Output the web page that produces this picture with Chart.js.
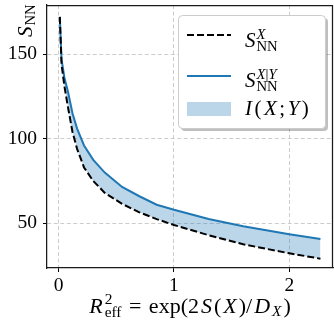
<!DOCTYPE html>
<html>
<head>
<meta charset="utf-8">
<script src="https://cdn.jsdelivr.net/npm/chart.js@4.4.1/dist/chart.umd.min.js"></script>
<style>
  html, body { margin: 0; padding: 0; background: #fff; }
  #wrap { width: 334px; height: 329px; }
</style>
</head>
<body>
<div id="wrap"><canvas id="c" width="334" height="329"></canvas></div>
<script>
// valeurs
const rEff = [0.01, 0.025, 0.05, 0.08, 0.12, 0.16, 0.22, 0.3, 0.4, 0.55, 0.7, 0.85, 1.0, 1.3, 1.6, 2.0, 2.27];
const sNNX = [172, 144, 131, 119, 104, 94, 83, 75, 68, 61.5, 56.5, 52.5, 49, 43, 37.6, 32.3, 29.1];
const sNNXY = [172, 147, 136, 128, 115, 106, 96, 87.5, 80, 71.5, 66, 61, 58, 52.5, 48.3, 43.6, 40.7];
const xTicks = [0, 1, 2];
const yTicks = [50, 100, 150];

const SERIF = '"Liberation Serif", "Times New Roman", serif';
const BLUE = '#1f77b4';
const FILL = 'rgba(31,119,180,0.3)';

const pts = (ys) => rEff.map((x, i) => ({ x: x, y: ys[i] }));

// petit moteur de texte "math" : runs normaux, indices et exposants
const fontOf = (r, size) => (r.it ? 'italic ' : '') + size.toFixed(1) + 'px ' + SERIF;

const runsWidth = (ctx, runs, size) => {
    let w = 0;
    runs.forEach(r => { ctx.font = fontOf(r, size); w += ctx.measureText(r.t).width; });
    return w;
};

const itemWidth = (ctx, it, size) => {
    if (it.sup || it.sub) {
        const s = size * 0.7;
        return Math.max(it.sup ? runsWidth(ctx, it.sup, s) : 0, it.sub ? runsWidth(ctx, it.sub, s) : 0);
    }
    ctx.font = fontOf(it, size);
    return ctx.measureText(it.t).width;
};

const drawRuns = (ctx, runs, x, y, size) => {
    runs.forEach(r => {
        ctx.font = fontOf(r, size);
        ctx.fillText(r.t, x, y);
        x += ctx.measureText(r.t).width;
    });
};

const drawMath = (ctx, items, x, y, size, gap, align) => {
    let total = 0;
    items.forEach((it, i) => { total += itemWidth(ctx, it, size) + (i ? gap : 0); });
    if (align === 'center') x -= total / 2;
    ctx.textBaseline = 'alphabetic';
    ctx.textAlign = 'left';
    items.forEach(it => {
        if (it.sup || it.sub) {
            const s = size * 0.7;
            if (it.sup) drawRuns(ctx, it.sup, x, y - size * 0.4, s);
            if (it.sub) drawRuns(ctx, it.sub, x, y + size * (it.sup ? 0.2 : 0.15), s);
        } else {
            ctx.font = fontOf(it, size);
            ctx.fillText(it.t, x, y);
        }
        x += itemWidth(ctx, it, size) + gap;
    });
};

const xTitle = [
    { t: 'R', it: true }, { sup: [{ t: '2' }], sub: [{ t: 'eff' }] },
    { t: ' = ' }, { t: 'exp(2' }, { t: 'S', it: true }, { t: '(' }, { t: 'X', it: true },
    { t: ')/' }, { t: 'D', it: true }, { sub: [{ t: 'X', it: true }] }, { t: ')' }
];
const yTitle = [{ t: 'S', it: true }, { sub: [{ t: 'NN' }] }];
const lab1 = [{ t: 'S', it: true }, { sup: [{ t: 'X', it: true }], sub: [{ t: 'NN' }] }];
const lab2 = [{ t: 'S', it: true }, { sup: [{ t: 'X', it: true }, { t: '|' }, { t: 'Y', it: true }], sub: [{ t: 'NN' }] }];
const lab3 = [{ t: 'I', it: true }, { t: '(' }, { t: 'X', it: true }, { t: ';' }, { t: 'Y', it: true }, { t: ')' }];

const decor = {
    id: 'decor',
    afterDraw(chart) {
        const { ctx, chartArea: a } = chart;
        ctx.save();
        // cadre haut / droite
        ctx.strokeStyle = '#1a1a1a';
        ctx.lineWidth = 1.25;
        ctx.beginPath();
        ctx.moveTo(a.left, a.top + 0.5);
        ctx.lineTo(a.right - 0.5, a.top + 0.5);
        ctx.lineTo(a.right - 0.5, a.bottom);
        ctx.stroke();

        ctx.fillStyle = '#000';
        // titre axe x
        drawMath(ctx, xTitle, (a.left + a.right) / 2, 313, 22, 2, 'center');
        // titre axe y (tourné)
        ctx.save();
        ctx.translate(32, 37);
        ctx.rotate(-Math.PI / 2);
        drawMath(ctx, yTitle, 0, 0, 21, 1, 'left');
        ctx.restore();

        // légende
        const bx = 178, by = 15, bw = 147, bh = 113;
        ctx.fillStyle = 'rgba(0,0,0,0.25)';
        ctx.beginPath();
        ctx.roundRect(bx + 3, by + 3, bw, bh, 4);
        ctx.fill();
        ctx.fillStyle = '#fff';
        ctx.strokeStyle = '#cccccc';
        ctx.lineWidth = 1;
        ctx.beginPath();
        ctx.roundRect(bx + 0.5, by + 0.5, bw, bh, 4);
        ctx.fill();
        ctx.stroke();

        ctx.lineWidth = 2;
        ctx.strokeStyle = '#000';
        ctx.setLineDash([7, 3]);
        ctx.beginPath(); ctx.moveTo(187, 35); ctx.lineTo(231, 35); ctx.stroke();
        ctx.setLineDash([]);
        ctx.strokeStyle = BLUE;
        ctx.beginPath(); ctx.moveTo(187, 76); ctx.lineTo(231, 76); ctx.stroke();
        ctx.fillStyle = FILL;
        ctx.fillRect(187, 102, 44, 14);

        ctx.fillStyle = '#000';
        drawMath(ctx, lab1, 245, 47, 21, 1, 'left');
        drawMath(ctx, lab2, 245, 87, 21, 1, 'left');
        drawMath(ctx, lab3, 245, 115, 21, 2.5, 'left');
        ctx.restore();
    }
};

const data = {
    datasets: [{
        label: 'S_NN^X',
        data: pts(sNNX),
        borderColor: '#000',
        borderWidth: 2,
        borderDash: [7, 3],
        pointRadius: 0,
        tension: 0,
        fill: false
    }, {
        label: 'S_NN^X|Y',
        data: pts(sNNXY),
        borderColor: BLUE,
        borderWidth: 2,
        backgroundColor: FILL,
        pointRadius: 0,
        tension: 0,
        fill: { target: 0 }
    }]
};

const options = {
    responsive: false,
    animation: false,
    devicePixelRatio: 1,
    layout: { padding: { top: 5, right: 1, left: 0, bottom: 0 } },
    scales: {
        x: {
            type: 'linear',
            min: -0.101,
            max: 2.379,
            afterFit: (s) => { s.height = 61; s.paddingLeft = 0; s.paddingRight = 0; },
            afterBuildTicks: (s) => { s.ticks = xTicks.map(v => ({ value: v })); },
            grid: { color: '#cccccc', lineWidth: 1, tickLength: 4, tickColor: '#000', tickWidth: 1 },
            border: { display: true, color: '#1a1a1a', width: 1.25, dash: [4, 2.5] },
            ticks: { color: '#000', padding: 2, font: { family: SERIF, size: 19.5 }, callback: (v) => v }
        },
        y: {
            type: 'linear',
            min: 23.6,
            max: 179,
            afterFit: (s) => { s.width = 47; s.paddingTop = 0; s.paddingBottom = 0; },
            afterBuildTicks: (s) => { s.ticks = yTicks.map(v => ({ value: v })); },
            grid: { color: '#cccccc', lineWidth: 1, tickLength: 4, tickColor: '#000', tickWidth: 1 },
            border: { display: true, color: '#1a1a1a', width: 1.25, dash: [4, 2.5] },
            ticks: { color: '#000', padding: 6, font: { family: SERIF, size: 19.5 }, callback: (v) => v }
        }
    },
    plugins: {
        legend: { display: false },
        tooltip: { enabled: false }
    }
};

new Chart(document.getElementById('c'), { type: 'line', data: data, options: options, plugins: [decor] });
</script>
</body>
</html>
